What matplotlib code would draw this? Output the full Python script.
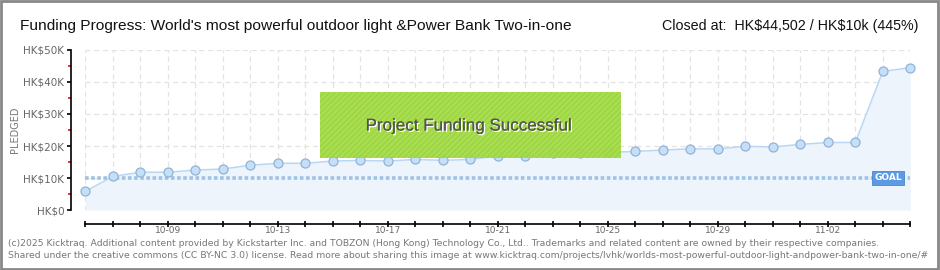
import matplotlib
matplotlib.use("Agg")
import matplotlib.pyplot as plt
import matplotlib.patheffects as pe
from matplotlib.patches import Rectangle
import numpy as np

# ---- data ----
dates = ["10-06", "10-07", "10-08", "10-09", "10-10", "10-11", "10-12", "10-13",
         "10-14", "10-15", "10-16", "10-17", "10-18", "10-19", "10-20", "10-21",
         "10-22", "10-23", "10-24", "10-25", "10-26", "10-27", "10-28", "10-29",
         "10-30", "10-31", "11-01", "11-02", "11-03", "11-04", "11-05"]
pledged = [5800, 10500, 11800, 11800, 12500, 12800, 14000, 14600,
           14600, 15300, 15500, 15300, 15800, 15500, 15800, 16900,
           16900, 17700, 17900, 18000, 18300, 18750, 19100, 19100,
           19900, 19700, 20500, 21100, 21100, 43300, 44502]
goal = 10000
ytick_vals = [0, 10000, 20000, 30000, 40000, 50000]
ytick_labels = ["HK\\$0", "HK\\$10K", "HK\\$20K", "HK\\$30K", "HK\\$40K", "HK\\$50K"]
xlabel_dates = ["10-09", "10-13", "10-17", "10-21", "10-25", "10-29", "11-02"]

title = "Funding Progress: World's most powerful outdoor light &Power Bank Two-in-one"
closed = "Closed at:  HK\\$44,502 / HK\\$10k (445%)"
banner = "Project Funding Successful"
footer1 = ("(c)2025 Kicktraq. Additional content provided by Kickstarter Inc. and TOBZON (Hong Kong) "
           "Technology Co., Ltd.. Trademarks and related content are owned by their respective companies.")
footer2 = ("Shared under the creative commons (CC BY-NC 3.0) license. Read more about sharing this image at "
           "www.kicktraq.com/projects/lvhk/worlds-most-powerful-outdoor-light-andpower-bank-two-in-one/#")

W, H = 940, 270
fig = plt.figure(figsize=(W / 100, H / 100), dpi=100)
fig.patch.set_facecolor("white")
renderer = fig.canvas.get_renderer()

def fx(px):
    return px / W

def fy(py):
    return 1 - py / H

def fit(txt, target_px):
    w = txt.get_window_extent(renderer=renderer).width
    txt.set_fontsize(txt.get_fontsize() * target_px / w)

head_font = ["Liberation Sans", "DejaVu Sans"]

# axes area: x 85.3..910.3, y 50..210 (pixels from top)
ax = fig.add_axes([fx(85.3), fy(210), fx(910.3) - fx(85.3), fy(50) - fy(210)])
x = np.arange(len(dates))
ax.set_xlim(0, len(dates) - 1)
ax.set_ylim(0, 50000)

# grid
for xi in x:
    ax.axvline(xi, color="#e3e3e3", lw=0.9, dashes=(4, 3), zorder=0)
for yv in ytick_vals:
    ax.axhline(yv, color="#e3e3e3", lw=0.9, dashes=(4, 3), zorder=0)

ax.fill_between(x, pledged, 0, color="#edf4fc", zorder=1, lw=0)
ax.axhline(goal, color="#9fc2e7", lw=2.6, dashes=(1.0, 0.7), zorder=2)
ax.plot(x, pledged, color="#b9d7f4", lw=1.1, zorder=3)
ax.plot(x, pledged, "o", ms=6.5, mfc="#c6dff8", mec="#93b3d4", mew=0.9,
        zorder=4, clip_on=False)

# goal label
gi = dates.index("11-04")
ax.text(gi + 0.2, goal, "GOAL", color="white", fontsize=6.5, fontweight="bold",
        ha="center", va="center", zorder=6,
        bbox=dict(boxstyle="square,pad=0.25", fc="#5b9be3", ec="#4a86cc", lw=0.6))

# spines
for s in ["top", "right"]:
    ax.spines[s].set_visible(False)
ax.spines["left"].set_position(("outward", 10))
ax.spines["bottom"].set_position(("outward", 10))
for s in ["left", "bottom"]:
    ax.spines[s].set_color("black")
    ax.spines[s].set_linewidth(1.2)

ax.set_yticks(ytick_vals)
ax.set_yticklabels(ytick_labels)
ax.set_yticks([5000, 15000, 25000, 35000, 45000], minor=True)
ax.tick_params(axis="y", which="major", direction="out", length=2.6, width=1.2,
               color="black", labelsize=7.5, labelcolor="#666666", pad=2.4)
ax.tick_params(axis="y", which="minor", direction="out", length=2.3, width=1.2,
               color="#ff0000")
ax.set_xticks(x)
ax.set_xticklabels([d if d in xlabel_dates else "" for d in dates])
ax.tick_params(axis="x", which="major", direction="inout", length=5, width=1.2,
               color="black", labelsize=6.5, labelcolor="#666666", pad=-1.2)
ax.set_facecolor("white")

fig.text(fx(15), fy(130), "PLEDGED", rotation=90, ha="center", va="center",
         fontsize=7, color="#777777")

# title texts
t1 = fig.text(fx(20), fy(30), title, ha="left", va="baseline", fontsize=11,
              family=head_font, color="#111111")
fit(t1, 548)
t2 = fig.text(fx(918), fy(30), closed, ha="right", va="baseline", fontsize=11,
              family=head_font, color="#111111")
fit(t2, 255)

# success box
box = Rectangle((fx(320), fy(158)), fx(621) - fx(320), fy(92) - fy(158),
                transform=fig.transFigure, fc="#a3dc45", ec="none", alpha=0.93, zorder=10)
fig.add_artist(box)
hatch = Rectangle((fx(320), fy(158)), fx(621) - fx(320), fy(92) - fy(158),
                  transform=fig.transFigure, fc="none", ec="#9bd43f", lw=0,
                  hatch="//////", zorder=10.5)
fig.add_artist(hatch)
t3 = fig.text(fx(469), fy(126), banner, ha="center", va="center",
              fontsize=13, family=head_font, color="#555555", zorder=11)
fit(t3, 206)
t3.set_path_effects([pe.withSimplePatchShadow(offset=(1, -1), shadow_rgbFace="white", alpha=1.0),
                     pe.Normal()])

# footer
f1 = fig.text(fx(8), fy(243), footer1, ha="left", va="center", fontsize=6.6, color="#777777")
fit(f1, 874)
f2 = fig.text(fx(8), fy(256), footer2, ha="left", va="center", fontsize=f1.get_fontsize(),
              color="#777777")

# border
fig.add_artist(Rectangle((0.001, 0.002), 0.997, 0.995, transform=fig.transFigure,
                         fc="none", ec="#888888", lw=2))

fig.savefig("out.png", dpi=100)
